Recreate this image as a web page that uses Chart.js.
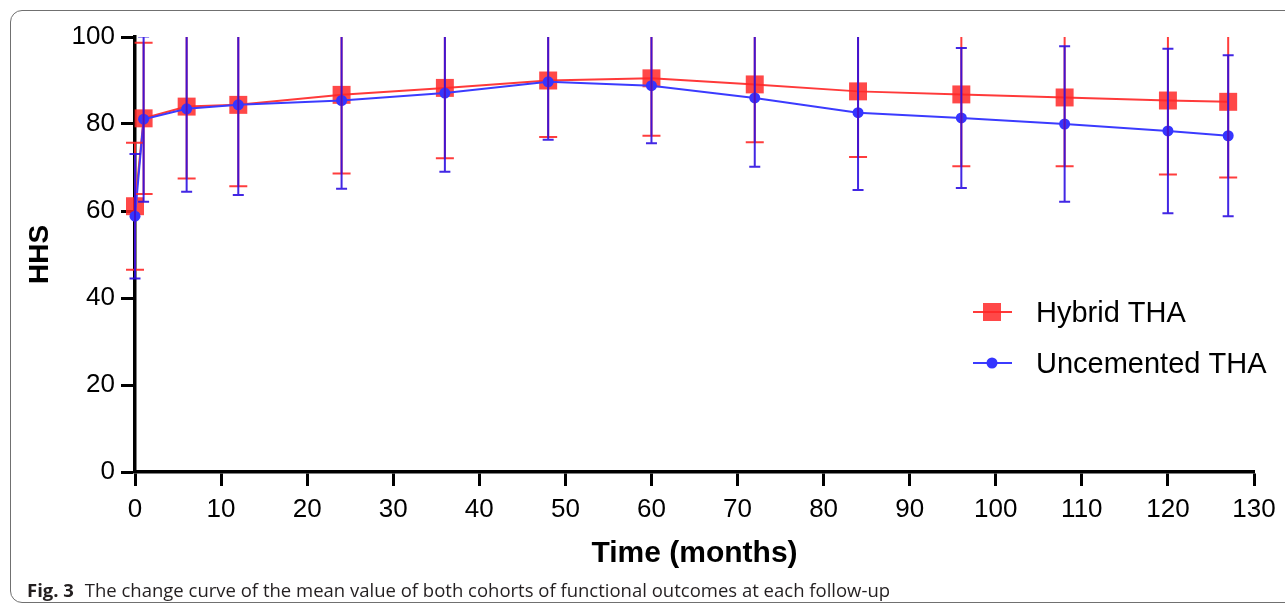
<!DOCTYPE html>
<html>
<head>
<meta charset="utf-8">
<script src="https://cdn.jsdelivr.net/npm/chart.js@4.4.1/dist/chart.umd.min.js"></script>
<style>
  body { margin: 0; background: #fff; overflow: hidden; }
  #wrap { position: relative; width: 1285px; height: 607px; }
  #frame {
    position: absolute; left: 10px; top: 10px; width: 1300px; height: 593px;
    border: 1.5px solid #707070; border-radius: 12px; box-sizing: border-box;
  }
  #chartCanvas { position: absolute; left: 0; top: 0; }
  #caption {
    position: absolute; left: 27px; top: 577px;
    font-family: "Open Sans", "Noto Sans", sans-serif; font-size: 18.5px; color: #231f20;
    white-space: nowrap;
  }
  #caption b { font-weight: 700; margin-right: 6px; }
</style>
</head>
<body>
<div id="wrap">
  <div id="frame"></div>
  <canvas id="chartCanvas" width="1285" height="607"></canvas>
  <div id="caption"><b>Fig. 3</b> The change curve of the mean value of both cohorts of functional outcomes at each follow-up</div>
</div>
<script>
const months = [0, 1, 6, 12, 24, 36, 48, 60, 72, 84, 96, 108, 120, 127];
const hybridMean = [61.1, 81.3, 84.0, 84.4, 86.7, 88.3, 90.0, 90.5, 89.1, 87.5, 86.8, 86.1, 85.4, 85.1];
const hybridSD = [14.6, 17.4, 16.5, 18.7, 18.1, 16.2, 13.0, 13.2, 13.3, 15.1, 16.5, 15.8, 17.0, 17.4];
const uncementedMean = [58.8, 81.1, 83.5, 84.4, 85.4, 87.1, 89.7, 88.8, 86.0, 82.6, 81.4, 80.0, 78.4, 77.3];
const uncementedSD = [14.3, 19.0, 19.1, 20.7, 20.3, 18.1, 13.3, 13.2, 15.8, 17.8, 16.1, 17.9, 18.9, 18.5];
const seriesNames = ['Hybrid THA', 'Uncemented THA'];

const FONT = '"Liberation Sans", Arial, sans-serif';

function toPoints(means) {
    return months.map((m, i) => ({ x: m, y: means[i] }));
}

// mean +/- SD bars, clipped at the top of the plot like the original
const errorBars = {
    id: 'errorBars',
    afterDatasetsDraw(chart) {
        const { ctx, chartArea, scales: { x, y } } = chart;
        ctx.save();
        ctx.beginPath();
        ctx.rect(0, chartArea.top, chart.width, chart.height - chartArea.top);
        ctx.clip();
        chart.data.datasets.forEach(ds => {
            ctx.strokeStyle = ds.barColor;
            ctx.lineWidth = 2;
            ds.data.forEach((pt, i) => {
                const px = x.getPixelForValue(pt.x);
                const top = y.getPixelForValue(pt.y + ds.errors[i]);
                const bot = y.getPixelForValue(pt.y - ds.errors[i]);
                const w = ds.capHalf;
                ctx.beginPath();
                ctx.moveTo(px, top); ctx.lineTo(px, bot);
                ctx.moveTo(px - w, top); ctx.lineTo(px + w, top);
                ctx.moveTo(px - w, bot); ctx.lineTo(px + w, bot);
                ctx.stroke();
            });
        });
        ctx.restore();
    }
};

const legendBox = {
    id: 'legendBox',
    afterDraw(chart) {
        const ctx = chart.ctx;
        const rows = [312, 363];
        chart.data.datasets.forEach((ds, i) => {
            const yy = rows[i];
            ctx.save();
            ctx.strokeStyle = ds.borderColor;
            ctx.lineWidth = 2;
            ctx.beginPath();
            ctx.moveTo(973, yy); ctx.lineTo(1012, yy);
            ctx.stroke();
            ctx.fillStyle = ds.pointBackgroundColor;
            if (ds.pointStyle === 'rect') {
                ctx.fillRect(983, yy - 9, 18, 18);
            } else {
                ctx.beginPath();
                ctx.arc(992, yy, 5.5, 0, Math.PI * 2);
                ctx.fill();
            }
            ctx.fillStyle = '#000';
            ctx.font = '29px ' + FONT;
            ctx.textBaseline = 'middle';
            ctx.fillText(seriesNames[i], 1036, yy + 2);
            ctx.restore();
        });
    }
};

const canvas = document.getElementById('chartCanvas');

new Chart(canvas, {
    type: 'line',
    data: {
        datasets: [{
            label: seriesNames[0],
            data: toPoints(hybridMean),
            errors: hybridSD,
            barColor: 'rgba(255, 40, 40, 0.9)',
            capHalf: 9,
            borderColor: '#ff3a3a',
            borderWidth: 2,
            pointStyle: 'rect',
            pointRadius: 12.7,
            pointBackgroundColor: 'rgba(255, 40, 40, 0.85)',
            pointBorderWidth: 0,
            clip: false,
            order: 2
        }, {
            label: seriesNames[1],
            data: toPoints(uncementedMean),
            errors: uncementedSD,
            barColor: 'rgba(45, 15, 225, 0.9)',
            capHalf: 5.5,
            borderColor: '#3b3bff',
            borderWidth: 2,
            pointStyle: 'circle',
            pointRadius: 5.5,
            pointBackgroundColor: '#3535ff',
            pointBorderWidth: 0,
            clip: false,
            order: 1
        }]
    },
    options: {
        responsive: false,
        animation: false,
        layout: { padding: { top: 37, right: 31, left: 0, bottom: 0 } },
        plugins: {
            legend: { display: false },
            tooltip: { enabled: false }
        },
        scales: {
            x: {
                type: 'linear',
                min: 0,
                max: 130,
                afterFit: s => { s.height = 135; },
                ticks: { stepSize: 10, color: '#000', padding: 8, font: { family: FONT, size: 26 } },
                grid: { drawOnChartArea: false, tickLength: 14, tickWidth: 3, tickColor: '#000' },
                border: { color: '#000', width: 3.5 },
                title: {
                    display: true,
                    text: 'Time (months)',
                    color: '#000',
                    font: { family: FONT, size: 30, weight: 'bold' },
                    padding: { top: 0, bottom: 35 }
                }
            },
            y: {
                min: 0,
                max: 100,
                afterFit: s => { s.width = 135; },
                ticks: { stepSize: 20, color: '#000', padding: 6, font: { family: FONT, size: 26 } },
                grid: { drawOnChartArea: false, tickLength: 14, tickWidth: 3, tickColor: '#000' },
                border: { color: '#000', width: 3.5 },
                title: {
                    display: true,
                    text: 'HHS',
                    color: '#000',
                    font: { family: FONT, size: 28, weight: 'bold' },
                    padding: { top: 23, bottom: 0 }
                }
            }
        }
    },
    plugins: [errorBars, legendBox]
});
</script>
</body>
</html>
